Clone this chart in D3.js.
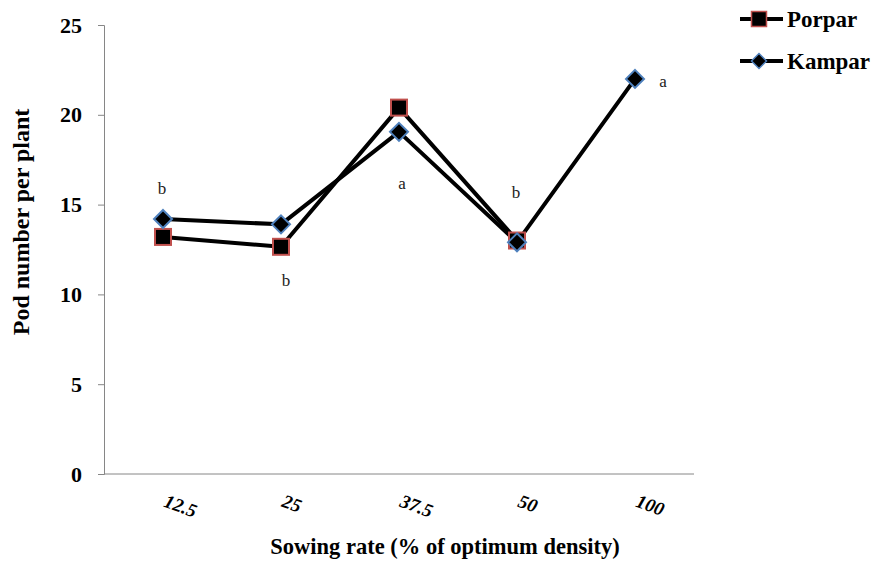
<!DOCTYPE html>
<html>
<head>
<meta charset="utf-8">
<script src="https://cdn.jsdelivr.net/npm/d3@7"></script>
<style>
  body { margin: 0; background: #fff; }
  svg { display: block; }
</style>
</head>
<body>
<svg id="chart" width="879" height="562"></svg>
<script>
const categories = ["12.5", "25", "37.5", "50", "100"];
const porpar = [13.2, 12.65, 20.4, 13.0, null];
const kampar = [14.2, 13.9, 19.05, 12.9, 22.0];
const letters = ["b", "b", "a", "b", "a"];
const yTicks = [0, 5, 10, 15, 20, 25];
const seriesNames = ["Porpar", "Kampar"];

const FONT = '"Liberation Serif"';
const svg = d3.select("#chart");
const margin = {left: 104, right: 185, top: 25, bottom: 88};
const W = 879, H = 562;
const x = d3.scalePoint().domain(categories).range([margin.left, W - margin.right]).padding(0.5);
const y = d3.scaleLinear().domain([0, 25]).range([H - margin.bottom, margin.top]);

// Y axis
const yAxis = svg.append("g")
  .attr("transform", `translate(${margin.left},0)`)
  .call(d3.axisLeft(y).tickValues(yTicks).tickSize(6).tickPadding(16).tickFormat(d3.format("d")));
yAxis.select(".domain").attr("stroke", "#868686").attr("stroke-width", 1);
yAxis.selectAll(".tick line").attr("stroke", "#868686");
yAxis.selectAll(".tick text")
  .style("font-family", FONT).style("font-weight", "bold").style("font-size", "22px").attr("fill", "#000");

// X axis
const xAxis = svg.append("g")
  .attr("transform", `translate(0,${y(0)})`)
  .call(d3.axisBottom(x).tickSize(0).tickFormat(""));
xAxis.select(".domain").attr("stroke", "#868686").attr("stroke-width", 1)
  .attr("d", `M${margin.left},0H${W - margin.right}`);

// X tick labels (rotated)
svg.append("g").selectAll("text")
  .data(categories)
  .join("text")
  .attr("transform", d => `translate(${x(d) + 2},${y(0) + 26}) rotate(20)`)
  .attr("dy", "0.35em")
  .attr("text-anchor", "start")
  .style("font-family", FONT).style("font-weight", "bold").style("font-style", "italic").style("font-size", "19px")
  .attr("fill", "#000")
  .text(d => d);

// Axis titles
svg.append("text")
  .attr("x", 445)
  .attr("y", 554)
  .attr("text-anchor", "middle")
  .style("font-family", FONT).style("font-weight", "bold").style("font-size", "22.5px")
  .text("Sowing rate (% of optimum density)");

svg.append("text")
  .attr("transform", `translate(29,222) rotate(-90)`)
  .attr("text-anchor", "middle")
  .style("font-family", FONT).style("font-weight", "bold").style("font-size", "24px")
  .text("Pod number per plant");

// Lines
const line = d3.line()
  .defined(d => d.v != null)
  .x(d => x(d.c))
  .y(d => y(d.v));

const pData = categories.map((c, i) => ({c, v: porpar[i]}));
const kData = categories.map((c, i) => ({c, v: kampar[i]}));

svg.append("path").datum(pData).attr("d", line)
  .attr("fill", "none").attr("stroke", "#000").attr("stroke-width", 4).attr("stroke-linejoin", "round");
svg.append("path").datum(kData).attr("d", line)
  .attr("fill", "none").attr("stroke", "#000").attr("stroke-width", 4).attr("stroke-linejoin", "round");

const sq = 16;
svg.append("g").selectAll("rect")
  .data(pData.filter(d => d.v != null))
  .join("rect")
  .attr("x", d => x(d.c) - sq / 2).attr("y", d => y(d.v) - sq / 2)
  .attr("width", sq).attr("height", sq)
  .attr("fill", "#000").attr("stroke", "#c0504d").attr("stroke-width", 2);

const dm = 9;
svg.append("g").selectAll("path")
  .data(kData.filter(d => d.v != null))
  .join("path")
  .attr("d", d => { const cx = x(d.c), cy = y(d.v); return `M${cx},${cy - dm}L${cx + dm},${cy}L${cx},${cy + dm}L${cx - dm},${cy}Z`; })
  .attr("fill", "#000").attr("stroke", "#4f81bd").attr("stroke-width", 2);

// Significance letters
const letterPos = [
  {dx: -1, v: 15.9},
  {dx: 5, v: 10.8},
  {dx: 3, v: 16.2},
  {dx: -1, v: 15.7},
  {dx: 28, v: 21.9}
];
svg.append("g").selectAll("text")
  .data(categories)
  .join("text")
  .attr("x", (d, i) => x(d) + letterPos[i].dx)
  .attr("y", (d, i) => y(letterPos[i].v))
  .attr("dy", "0.35em")
  .attr("text-anchor", "middle")
  .style("font-family", FONT).style("font-size", "17px").attr("fill", "#222")
  .text((d, i) => letters[i]);

// Legend
const legend = svg.append("g");
const legY = [19, 61];
seriesNames.forEach((name, i) => {
  const g = legend.append("g").attr("transform", `translate(740,${legY[i]})`);
  g.append("line").attr("x1", 0).attr("x2", 43).attr("y1", 0).attr("y2", 0)
    .attr("stroke", "#000").attr("stroke-width", 4);
  if (i === 0) {
    g.append("rect").attr("x", 19 - 7.5).attr("y", -7.5).attr("width", 15).attr("height", 15)
      .attr("fill", "#000").attr("stroke", "#c0504d").attr("stroke-width", 1.5);
  } else {
    const d = 7.5;
    g.append("path").attr("d", `M19,${-d}L${19 + d},0L19,${d}L${19 - d},0Z`)
      .attr("fill", "#000").attr("stroke", "#4f81bd").attr("stroke-width", 1.5);
  }
  g.append("text").attr("x", 47).attr("y", 0).attr("dy", "0.35em")
    .style("font-family", FONT).style("font-weight", "bold").style("font-size", "23px")
    .text(name);
});
</script>
</body>
</html>
